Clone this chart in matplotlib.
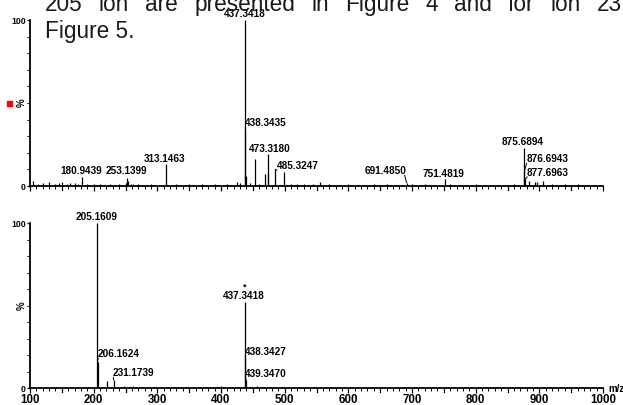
import matplotlib
matplotlib.use("Agg")
import matplotlib.pyplot as plt
from matplotlib.ticker import MultipleLocator, FixedLocator

plt.rcParams['font.family'] = ['Liberation Sans', 'DejaVu Sans']

# ---- Data: top spectrum (m/z, relative intensity %) ----
top_mz = [437.3418, 438.3435, 439.35, 453.3, 469.3, 473.3180, 474.3, 485.3247, 499.3,
          313.1463, 314.1, 253.1399, 254.1, 180.9439, 691.4850, 751.4819,
          875.6894, 876.6943, 877.6963, 884.0, 893.0, 896.0, 905.0, 920.0]
top_int = [100, 33, 6, 16, 7, 19, 7, 10, 8.5,
           13, 2, 5, 3, 5.5, 2, 4,
           23, 9, 4, 3, 2.5, 2.5, 3, 1.5]
noise_mz = [105, 112, 120, 130, 140, 145, 150, 158, 163, 170, 175, 190, 200, 210, 225,
            240, 250, 258, 262, 270, 290, 330, 350, 370, 390, 410, 425, 430, 445, 460,
            510, 520, 530, 545, 555, 570, 600, 640, 660, 700, 720, 760, 800, 860, 940, 960]
noise_int = [3, 1.5, 2, 2.5, 1.5, 2, 2.5, 1.5, 2, 2, 1.5, 1.5, 1.5, 1, 1,
             1, 2, 1.5, 1, 1, 1, 1, 1, 1, 1.5, 1.5, 2.5, 2, 2, 1.5,
             1.5, 1.5, 1.5, 1.5, 2.5, 1.5, 1, 1.5, 1.5, 1, 1, 1, 1, 1.5, 1, 1]

# ---- Data: bottom spectrum ----
bot_mz = [205.1609, 206.1624, 221.2, 231.1739, 232.2, 248.0, 262.0, 400.0,
          437.3418, 438.3427, 439.3470, 456.0]
bot_int = [100, 16, 4.5, 5, 1.5, 1.5, 1.5, 1, 52, 18, 5, 1]

# labels: (text, peak m/z, peak int, label x, label y, ha, va, leader)
top_labels = [
    ("437.3418", 437.3418, 100, 437.7, 100.8, 'center', 'bottom', False),
    ("438.3435", 438.3435, 33, 437.8, 38, 'left', 'center', True),
    ("473.3180", 473.3180, 19, 477, 19.5, 'center', 'bottom', False),
    ("485.3247", 485.3247, 10, 487.5, 12, 'left', 'center', True),
    ("313.1463", 313.1463, 13, 312, 13.5, 'center', 'bottom', False),
    ("253.1399", 253.1399, 5, 252, 5.8, 'center', 'bottom', False),
    ("180.9439", 180.9439, 5.5, 180, 5.8, 'center', 'bottom', False),
    ("691.4850", 691.4850, 2, 659, 6.2, 'center', 'bottom', True),
    ("751.4819", 751.4819, 4, 750, 4.2, 'center', 'bottom', False),
    ("875.6894", 875.6894, 23, 874.5, 23.3, 'center', 'bottom', False),
    ("876.6943", 876.6943, 9, 879.5, 16, 'left', 'center', True),
    ("877.6963", 877.6963, 4, 880.5, 8, 'left', 'center', True),
]
bot_labels = [
    ("205.1609", 205.1609, 100, 205, 100.8, 'center', 'bottom', False),
    ("206.1624", 206.1624, 16, 206.5, 20.5, 'left', 'center', True),
    ("231.1739", 231.1739, 5, 230.5, 9, 'left', 'center', True),
    ("437.3418", 437.3418, 52, 436, 52.5, 'center', 'bottom', False),
    ("438.3427", 438.3427, 18, 437.7, 22, 'left', 'center', True),
    ("439.3470", 439.3470, 5, 438.2, 8.5, 'left', 'center', True),
]

line1_words = ['205', 'ion', 'are', 'presented', 'in', 'Figure', '4', 'and', 'for', 'ion', '23']
line2_text = 'Figure 5.'

W, H = 623, 405
fig = plt.figure(figsize=(W / 100, H / 100), dpi=100)
fig.patch.set_facecolor('white')

ax_top = fig.add_axes([30 / W, (H - 186) / H, 573 / W, 166 / H])
ax_bot = fig.add_axes([30 / W, (H - 388) / H, 573 / W, 165 / H])

lab_font = dict(fontsize=7.2, fontweight='bold', color='black')


def style(ax, show_xlabels):
    ax.set_xlim(100, 1000)
    ax.set_ylim(0, 100)
    for s in ['top', 'right']:
        ax.spines[s].set_visible(False)
    ax.spines['left'].set_linewidth(1.3)
    ax.spines['bottom'].set_linewidth(1.3)
    ax.set_facecolor('none')
    ax.xaxis.set_major_locator(MultipleLocator(100))
    ax.xaxis.set_minor_locator(MultipleLocator(10))
    ax.yaxis.set_major_locator(FixedLocator([0, 100]))
    ax.yaxis.set_minor_locator(MultipleLocator(10))
    ax.tick_params(axis='x', which='major', length=3.5, width=0.9, direction='out', pad=1,
                   labelsize=8.3, labelbottom=show_xlabels)
    ax.tick_params(axis='x', which='minor', length=2, width=0.7, direction='out')
    ax.tick_params(axis='y', which='major', length=2.5, width=0.9, direction='out', pad=0.5,
                   labelsize=6.2)
    ax.tick_params(axis='y', which='minor', length=2, width=0.7, direction='out')
    for lbl in ax.get_xticklabels() + ax.get_yticklabels():
        lbl.set_fontweight('bold')
    ax.set_ylabel('%', fontsize=7, fontweight='bold')
    ax.yaxis.set_label_coords(-3.5 / 573, 0.5)


def draw(ax, mz, inten):
    ax.vlines(mz, 0, inten, colors='black', linewidth=0.9, clip_on=False)


def labels(ax, items):
    for txt, px, py, lx, ly, ha, va, leader in items:
        ax.text(lx, ly, txt, ha=ha, va=va, **lab_font)
        if leader:
            if ha == 'left':
                ax.plot([px, lx + 0.5], [py, ly - 2.5], color='black', lw=0.7)
            else:
                ax.plot([px, px - 3], [py, ly + 0.2], color='black', lw=0.7)


style(ax_top, False)
style(ax_bot, True)
draw(ax_top, noise_mz, noise_int)
draw(ax_top, top_mz, top_int)
draw(ax_bot, bot_mz, bot_int)
labels(ax_top, top_labels)
labels(ax_bot, bot_labels)
ax_bot.text(436.5, 61, '*', ha='center', va='center', fontsize=6.5, fontweight='bold')

# mid-50 ticks slightly longer
for ax in (ax_top, ax_bot):
    for v in range(150, 1000, 100):
        ax.plot([v, v], [0, -2.2], color='black', lw=0.9, clip_on=False)

fig.text(608 / W, (H - 389) / H, 'm/z', fontsize=7, fontweight='bold', ha='left', va='center')

# red marker
fig.patches.append(plt.Rectangle((7 / W, (H - 106) / H), 5 / W, 5 / H,
                                 transform=fig.transFigure, color='#ff0000', zorder=10))

# overlapping document text (justified first line)
body = dict(fontsize=16.3, color='#1a1a1a', va='baseline', ha='left')
renderer = fig.canvas.get_renderer()
word_objs = [fig.text(0, (H - 11) / H, w, **body) for w in line1_words]
widths = [t.get_window_extent(renderer).width for t in word_objs]
x_start, x_end = 45.0, 622.0
gap = (x_end - x_start - sum(widths)) / (len(line1_words) - 1)
x = x_start
for t, w in zip(word_objs, widths):
    t.set_x(x / W)
    x += w + gap
fig.text(45 / W, (H - 38) / H, line2_text, **body)

fig.savefig('out.png', dpi=100, facecolor='white')
